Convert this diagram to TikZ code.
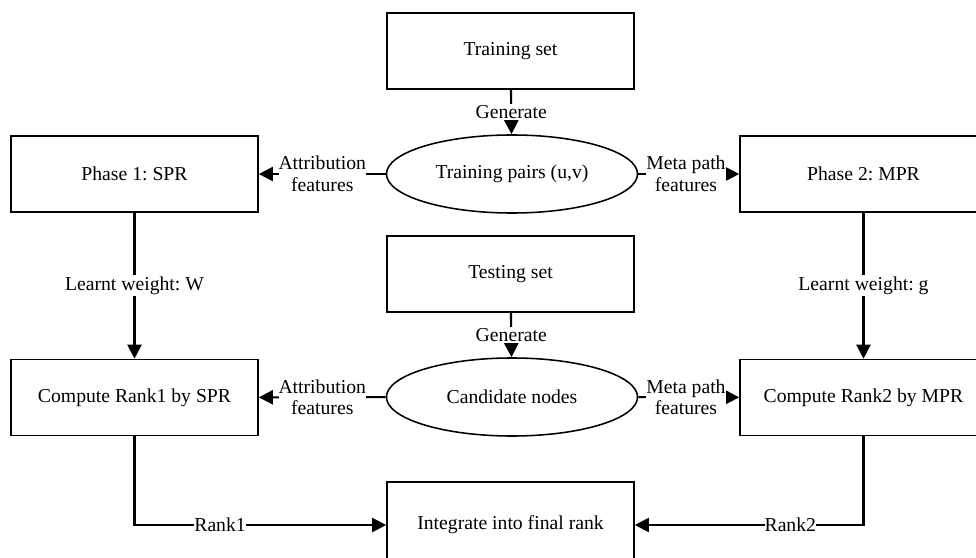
\documentclass[tikz,border=0pt]{standalone}
\usepackage{fontspec}
\setmainfont{Liberation Serif}
\usetikzlibrary{arrows.meta,shapes.geometric}
\frenchspacing
\begin{document}
\begin{tikzpicture}[
      x=0.025cm, y=-0.025cm,
      font=\fontsize{14}{15.5}\selectfont,
      etape/.style={
        draw,
        line width=1.1pt,
        rectangle,
        minimum width=6.175cm,
        minimum height=1.9cm
      },
      paire/.style={
        draw,
        line width=1.1pt,
        ellipse,
        inner sep=0pt,
        minimum width=6.275cm,
        minimum height=1.95cm
      },
      fleche/.style={
        line width=1.5pt,
        -{Triangle[length=10pt,width=10pt]}
      },
      etiq/.style={
        fill=white,
        inner xsep=0pt,
        inner ysep=1pt,
        align=center
      }
    ]
    \useasboundingbox (0,0) rectangle (976,558);
    \clip (0,0) rectangle (976,558);
    \node[etape] (train) at (510.5,51) {Training set} ;
    \node[paire] (pairs) at (512,174) {Training pairs (u,v)} ;
    \node[etape] (phase1) at (134.5,174) {Phase 1: SPR} ;
    \node[etape] (phase2) at (863.5,174) {Phase 2: MPR} ;
    \node[etape] (test) at (510.5,274) {Testing set} ;
    \node[paire] (cand) at (512,397) {Candidate nodes} ;
    \node[etape] (rank1) at (134.5,397.5) {Compute Rank1 by SPR} ;
    \node[etape] (rank2) at (863.5,397.5) {Compute Rank2 by MPR} ;
    \node[etape, minimum height=2.15cm] (final) at (510.5,525) {Integrate into final rank} ;

    % premiere phase
    \draw[fleche] (train) -- node[etiq] {Generate} (pairs) ;
    \draw[fleche] (pairs) -- node[etiq] {Attribution\\features} (phase1) ;
    \draw[fleche] (pairs) -- node[etiq, xshift=-2pt] {Meta path\\features} (phase2) ;
    \draw[fleche] (phase1) -- node[etiq] {Learnt weight: W} (rank1) ;
    \draw[fleche] (phase2) -- node[etiq] {Learnt weight: g} (rank2) ;

    % seconde phase
    \draw[fleche] (test) -- node[etiq] {Generate} (cand) ;
    \draw[fleche] (cand) -- node[etiq] {Attribution\\features} (rank1) ;
    \draw[fleche] (cand) -- node[etiq, xshift=-2pt] {Meta path\\features} (rank2) ;
    \draw[fleche] (rank1) |- node[etiq, pos=0.67] {Rank1} (final) ;
    \draw[fleche] (rank2) |- node[etiq, pos=0.66] {Rank2} (final) ;

  \end{tikzpicture}
\end{document}
